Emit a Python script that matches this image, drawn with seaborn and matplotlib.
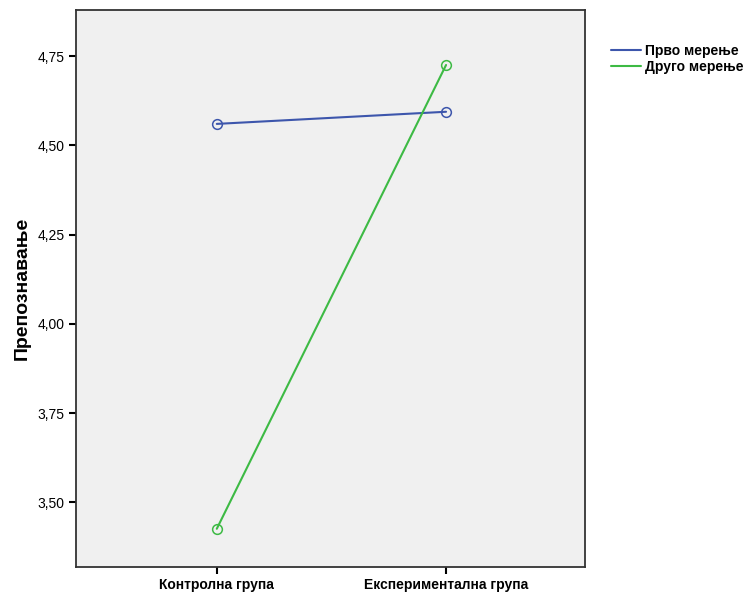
import matplotlib
matplotlib.use("Agg")
import matplotlib.pyplot as plt
import seaborn as sns
import pandas as pd
from matplotlib.lines import Line2D

groups = ["Контролна група", "Експериментална група"]
series_names = ["Прво мерење", "Друго мерење"]
first_measure = [4.560, 4.594]
second_measure = [3.426, 4.725]
y_ticks = [3.50, 3.75, 4.00, 4.25, 4.50, 4.75]
y_label = "Препознавање"
colors = ["#3D56AC", "#3DBA44"]

df = pd.DataFrame({
    "group": groups * 2,
    "value": first_measure + second_measure,
    "series": [series_names[0]] * 2 + [series_names[1]] * 2,
})

sns.set_style("white")
plt.rcParams["font.family"] = ["Liberation Sans", "DejaVu Sans"]
plt.rcParams["text.color"] = "black"
plt.rcParams["axes.labelcolor"] = "black"
plt.rcParams["xtick.color"] = "black"
plt.rcParams["ytick.color"] = "black"

fig = plt.figure(figsize=(7.47, 5.93), dpi=100)
ax = fig.add_axes([76 / 747, 1 - 567 / 593, (585 - 76) / 747, (567 - 10) / 593])
ax.set_facecolor("#F0F0F0")

sns.lineplot(data=df, x="group", y="value", hue="series", hue_order=series_names,
             palette=colors, marker="o", markersize=7, markerfacecolor="none",
             linewidth=1.5, ax=ax, legend=False, sort=False)
for line, c in zip(ax.lines, colors):
    line.set_markeredgecolor(c)
    line.set_markeredgewidth(1.1)
    line.set_markerfacecolor("none")

ax.set_xlim(-0.614, 1.606)
ax.set_ylim(3.319, 4.879)
ax.set_yticks(y_ticks)
ax.set_yticklabels([f"{v:.2f}".replace(".", ",") for v in y_ticks], fontsize=10)
ax.set_xticks([0, 1])
ax.set_xticklabels(groups, fontsize=10, fontweight="bold")
ax.tick_params(axis="both", direction="out", length=5, width=1.5, color="black",
               labelcolor="black", left=True, bottom=True, pad=3)
ax.set_xlabel("")
ax.set_ylabel(y_label, fontsize=14, fontweight="bold", labelpad=5, color="black")
for s in ax.spines.values():
    s.set_color("#333333")
    s.set_linewidth(1.3)

handles = [Line2D([], [], color=c, lw=1.5) for c in colors]
fig.legend(handles, series_names, loc="upper left", bbox_to_anchor=(605 / 747, 1 - 38 / 593),
           frameon=False, prop={"weight": "bold", "size": 10}, handlelength=2.2,
           handletextpad=0.3, labelspacing=0.2, borderaxespad=0, labelcolor="black")

fig.savefig("out.png", dpi=100)
